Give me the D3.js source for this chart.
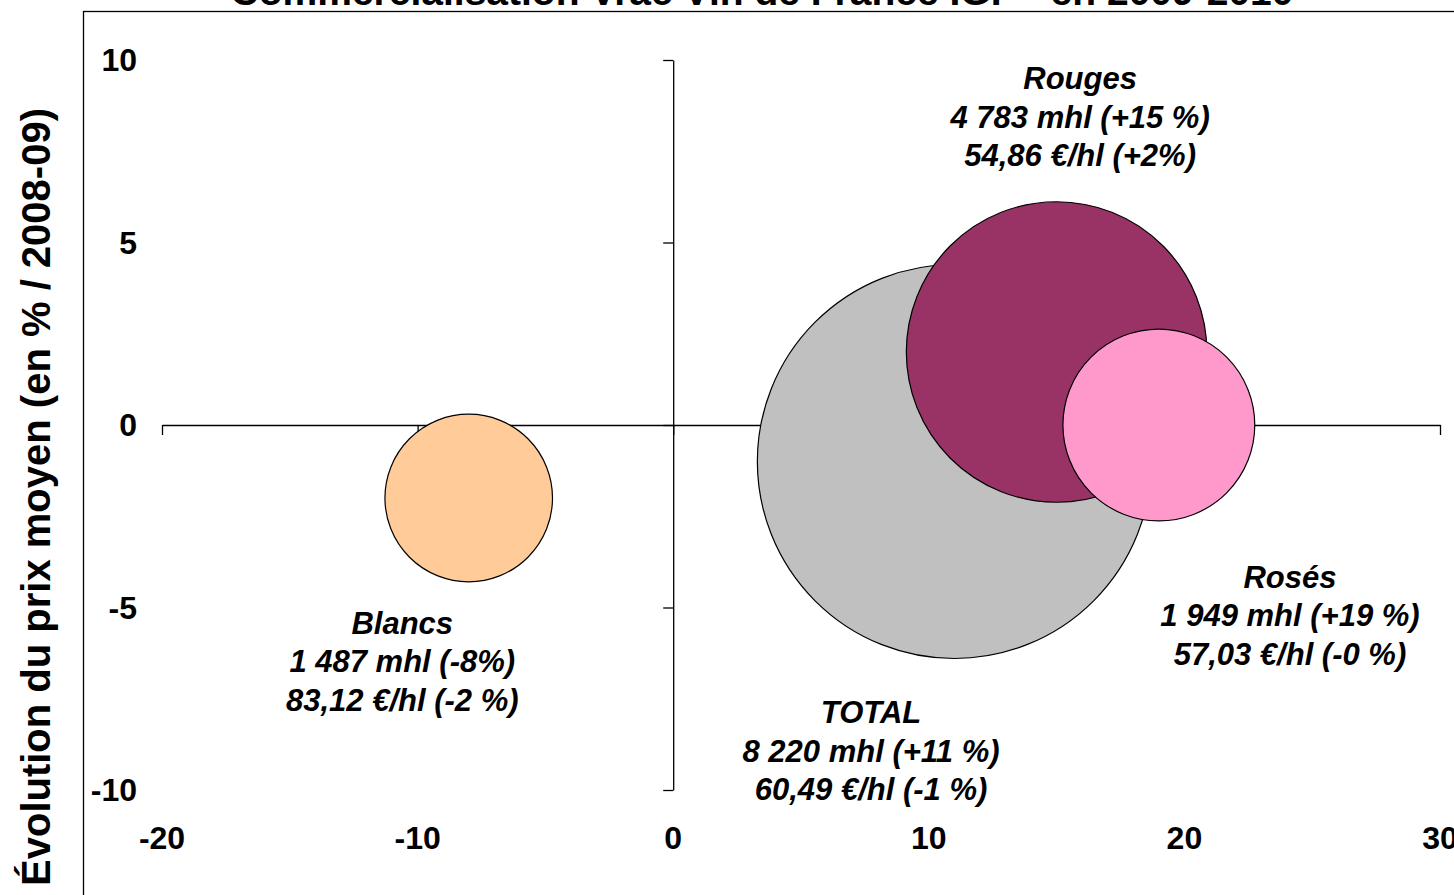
<!DOCTYPE html>
<html><head><meta charset="utf-8">
<script src="https://cdn.jsdelivr.net/npm/d3@7"></script>
<style>
html,body{margin:0;padding:0;background:#fff;overflow:hidden}
text{font-family:Arial,"Liberation Sans",sans-serif;font-weight:bold;fill:#000}
</style></head>
<body>
<svg id="chart" width="1454" height="895"></svg>
<script>
// ---- data ----
const series = ["Blancs", "TOTAL", "Rouges", "Rosés"];
const volumeChange = [-8, 11, 15, 19];          // x: évolution volume (%)
const priceChange = [-2, -1, 2, 0];             // y: évolution prix moyen (%)
const volumes = [1487, 8220, 4783, 1949];       // bubble size (mhl)
const colors = ["#FFCC99", "#C0C0C0", "#993366", "#FF99CC"];
const labelLines = [
  ["Blancs", "1 487 mhl (-8%)", "83,12 €/hl (-2 %)"],
  ["TOTAL", "8 220 mhl (+11 %)", "60,49 €/hl (-1 %)"],
  ["Rouges", "4 783 mhl (+15 %)", "54,86 €/hl (+2%)"],
  ["Rosés", "1 949 mhl (+19 %)", "57,03 €/hl (-0 %)"]
];
const xTicks = [-20, -10, 0, 10, 20, 30];
const yTicks = [-10, -5, 0, 5, 10];
const title = "Commercialisation Vrac Vin de France IGP  -  en 2009-2010";
const yTitle = "Évolution du prix moyen (en % / 2008-09)";

// ---- layout ----
// label anchors (middle line), in data units
const labelAnchorX = [-10.6, 7.74, 15.92, 24.13];
const labelAnchorY = [-6.47, -8.93, 8.44, -5.21];

const svg = d3.select("#chart");
const x = d3.scaleLinear().domain([-20, 30]).range([162, 1440]);
const y = d3.scaleLinear().domain([-10, 10]).range([790, 60]);
const r = d3.scaleSqrt().domain([0, d3.max(volumes)]).range([0, 197]);

// title (mostly cut off at top)
svg.append("text").attr("x", 762).attr("y", 5).attr("text-anchor", "middle")
  .style("font-size", "39px").text(title);

// chart frame
svg.append("rect").attr("x", 83.5).attr("y", 11.5).attr("width", 1500).attr("height", 1000)
  .attr("fill", "none").attr("stroke", "#000").attr("stroke-width", 1.3);

// axes
const gx = svg.append("g").attr("transform", `translate(0,${y(0)})`)
  .call(d3.axisBottom(x).tickValues(xTicks).tickSize(10).tickSizeOuter(0).tickFormat(""));
const gy = svg.append("g").attr("transform", `translate(${x(0)},0)`)
  .call(d3.axisLeft(y).tickValues(yTicks).tickSize(10).tickSizeOuter(0).tickFormat(""));
[gx, gy].forEach(g => {
  g.select(".domain").attr("stroke", "#000").attr("stroke-width", 1.3);
  g.selectAll(".tick line").attr("stroke", "#000").attr("stroke-width", 1.3);
});

// tick labels at low position
svg.append("g").selectAll("text").data(xTicks).join("text")
  .attr("x", d => x(d)).attr("y", 838).attr("dy", "0.35em").attr("text-anchor", "middle")
  .style("font-size", "32px").text(d => d);
svg.append("g").selectAll("text").data(yTicks).join("text")
  .attr("x", 137).attr("y", d => y(d)).attr("dy", "0.35em").attr("text-anchor", "end")
  .style("font-size", "32px").text(d => d);

// y axis title
svg.append("text").attr("transform", "translate(36,497) rotate(-90)")
  .attr("text-anchor", "middle").attr("dy", "0.35em")
  .style("font-size", "40px").text(yTitle);

// bubbles
const idx = d3.range(series.length);
svg.append("g").selectAll("circle").data(idx).join("circle")
  .attr("cx", i => x(volumeChange[i])).attr("cy", i => y(priceChange[i]))
  .attr("r", i => r(volumes[i])).attr("fill", i => colors[i])
  .attr("stroke", "#000").attr("stroke-width", 1.2);

// data labels
const lg = svg.append("g");
idx.forEach(i => {
  const t = lg.append("text").attr("text-anchor", "middle")
    .style("font-size", "31px").style("font-style", "italic");
  labelLines[i].forEach((line, k) => {
    t.append("tspan").attr("x", x(labelAnchorX[i]))
      .attr("y", y(labelAnchorY[i]) + (k - 1) * 38.5).attr("dy", "0.35em").text(line);
  });
});
</script>
</body></html>
